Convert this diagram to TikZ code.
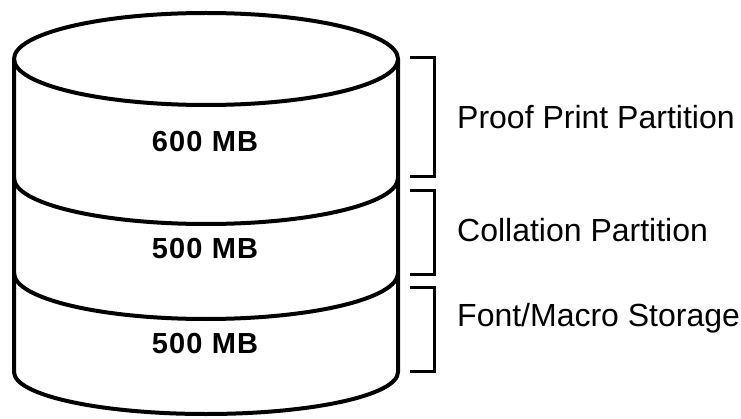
\documentclass[tikz,border=0pt]{standalone}
\usepackage{fontspec}
\setmainfont{Liberation Sans}
\newfontfamily\mbfont[LetterSpace=4]{Liberation Sans}
\begin{document}
\begin{tikzpicture}[x=1pt, y=1pt,
    disk/.style = {line width=4pt, line join=round},
    brace/.style = {line width=3pt},
    size/.style = {font=\fontsize{29}{34}\mbfont\bfseries, inner sep=0pt},
    part/.style = {font=\fontsize{32}{38}\selectfont, anchor=west, inner sep=0pt}]
    \useasboundingbox (0,0) rectangle (741,418);
    %A henger teteje es oldalai
    \draw[disk] (206,359) ellipse [x radius=192pt, y radius=46pt];
    \draw[disk] (14,359) -- (14,46) arc[start angle=180, end angle=360, x radius=192pt, y radius=42pt] -- (398,359);
    %Valasztovonalak a reszek kozott
    \draw[disk] (14,240) arc[start angle=180, end angle=360, x radius=192pt, y radius=46pt];
    \draw[disk] (14,145) arc[start angle=180, end angle=360, x radius=192pt, y radius=46pt];
    \node[size] (mb1) at (205,276) {600 MB};
    \node[size] (mb2) at (205,169) {500 MB};
    \node[size] (mb3) at (205,74) {500 MB};
    %Zarojelek jobbra
    \draw[brace] (410,360) -- (434,360) -- (434,241) -- (410,241);
    \draw[brace] (410,227) -- (434,227) -- (434,144) -- (410,144);
    \draw[brace] (410,131) -- (434,131) -- (434,47) -- (410,47);
    \node[part] (proof) at (457,301) {Proof Print Partition};
    \node[part] (coll) at (457,188) {Collation Partition};
    \node[part] (font) at (457,100) {Font/Macro Storage};
\end{tikzpicture}
\end{document}
